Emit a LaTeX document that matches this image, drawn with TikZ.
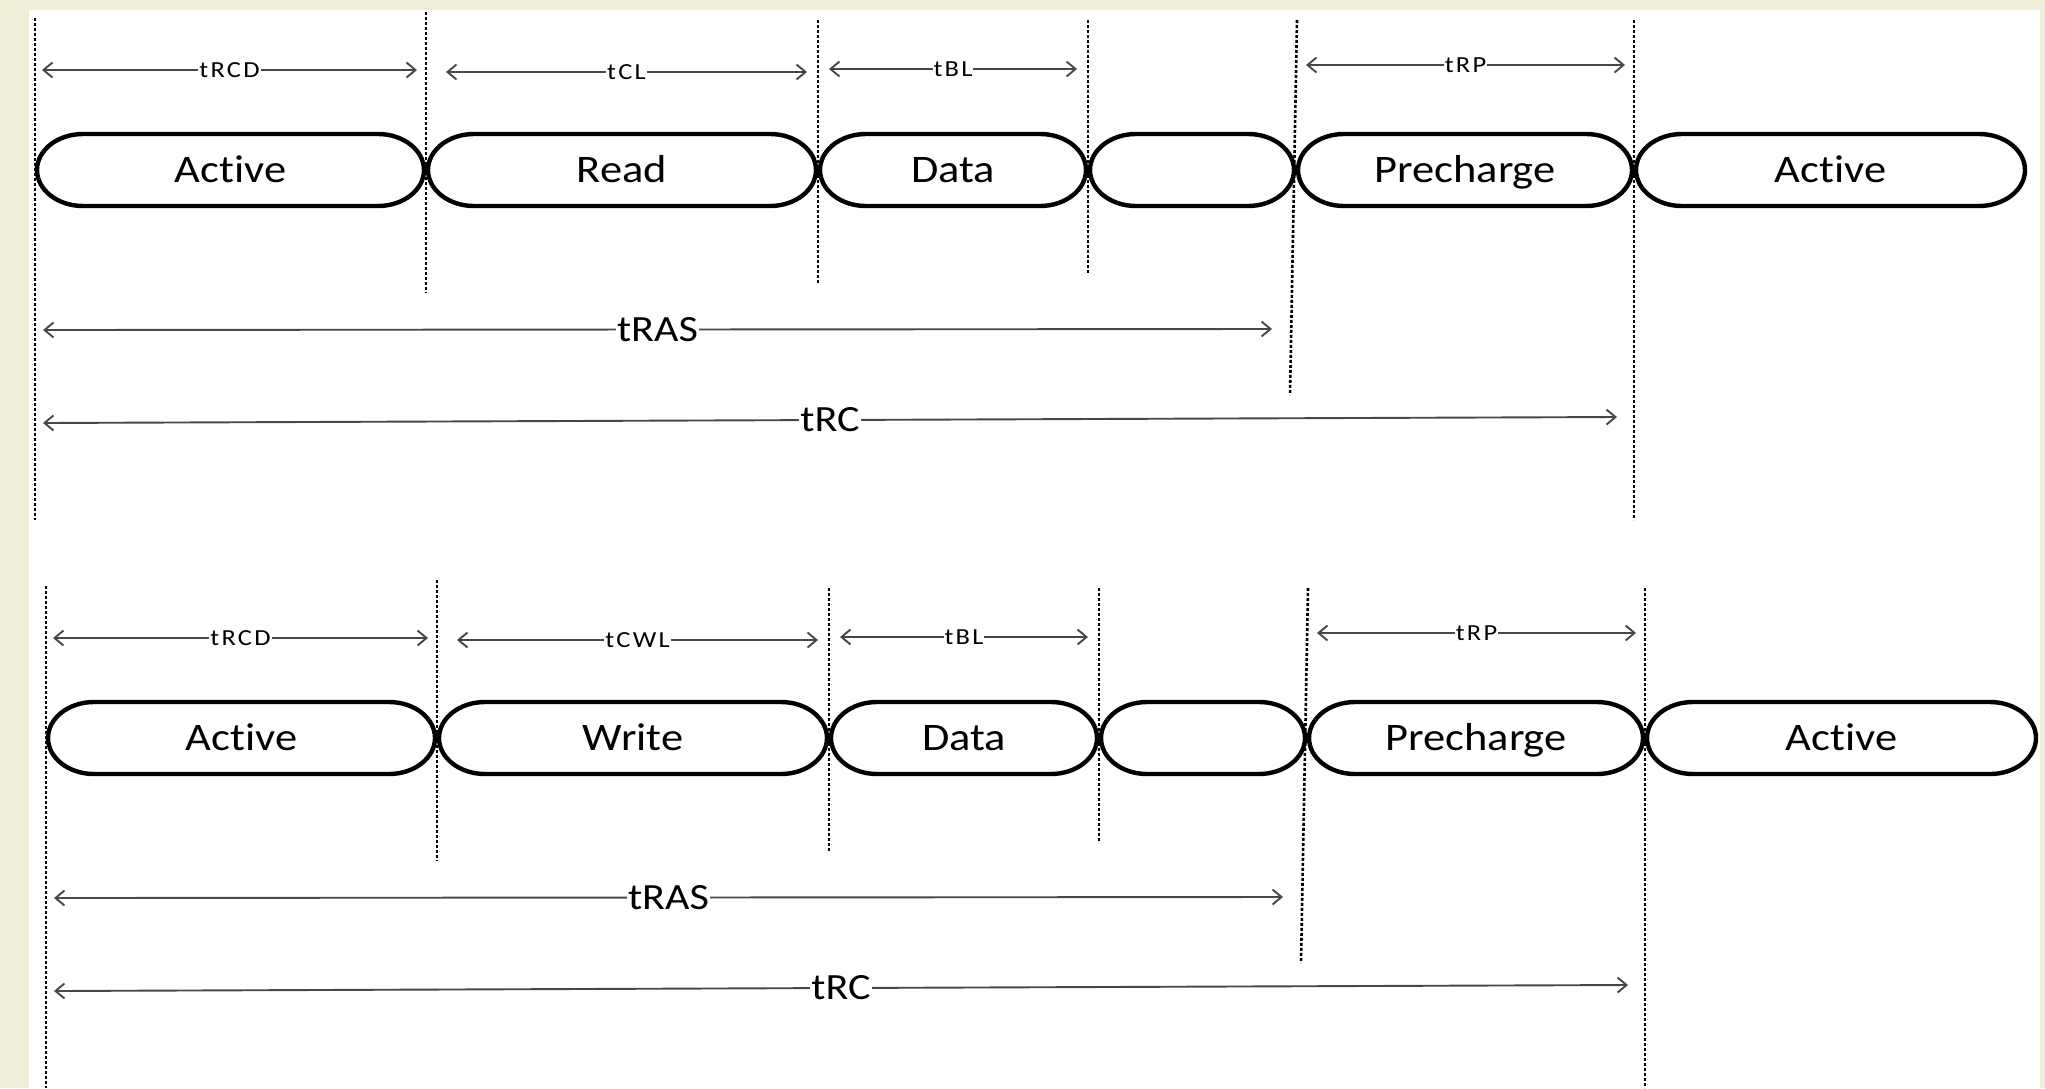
\documentclass[tikz,border=0pt]{standalone}
\usepackage{fontspec}
\usetikzlibrary{arrows.meta}

\newfontfamily\pillfont[FakeStretch=1.14,Ligatures=NoCommon]{Carlito}
\newfontfamily\labfont[FakeStretch=1.15,LetterSpace=10,Ligatures=NoCommon]{Carlito}
\definecolor{pagebg}{RGB}{239,239,216}

% half width / half height of the rounded ends of a command slot
\def\prx{46}
\def\pry{36}

\tikzset{
  guide/.style={line width=2.6pt, dash pattern=on 3pt off 2pt, black},
  pillline/.style={line width=4.4pt, black},
  pilltext/.style={font=\pillfont\fontsize{39}{39}\selectfont, inner sep=0pt,
                   text height=25pt, text depth=0pt},
  span/.style={line width=1.9pt, black!72,
               {Straight Barb[length=9pt,width=15pt]}-{Straight Barb[length=9pt,width=15pt]}},
  smalllab/.style={font=\labfont\fontsize{23}{23}\selectfont, fill=white, text=black,
                   inner xsep=1pt, inner ysep=1pt, text height=15pt, text depth=0pt},
  biglab/.style={font=\pillfont\fontsize{37}{37}\selectfont, fill=white, text=black,
                 inner xsep=1.5pt, inner ysep=1pt, text height=23pt, text depth=0pt},
}

% command slot: name, left x, right x, centre y, text
\newcommand{\slotpill}[5]{%
  \draw[pillline] ({#2+2+\prx},{#4+\pry}) -- ({#3-2-\prx},{#4+\pry})
     arc[start angle=90,end angle=-90,x radius=\prx,y radius=\pry]
     -- ({#2+2+\prx},{#4-\pry})
     arc[start angle=270,end angle=90,x radius=\prx,y radius=\pry] -- cycle;
  \node[pilltext] (#1) at ({(#2+#3)/2},#4) {#5};%
}

% one access sequence: name prefix, latency label, second command
\newcommand{\timingrow}[3]{%
  % boundary guides
  \coordinate (#1g1t) at (35,-18);    \coordinate (#1g1b) at (35,-520);
  \coordinate (#1g2t) at (426,-12);   \coordinate (#1g2b) at (426,-293);
  \coordinate (#1g3t) at (818,-20);   \coordinate (#1g3b) at (818,-283);
  \coordinate (#1g4t) at (1088,-20);  \coordinate (#1g4b) at (1088,-275);
  \coordinate (#1g5t) at (1297,-20);  \coordinate (#1g5b) at (1290,-395);
  \coordinate (#1g6t) at (1634,-20);  \coordinate (#1g6b) at (1634,-520);
  \foreach \g in {1,...,6} {\draw[guide] (#1g\g t) -- (#1g\g b);}
  % command slots
  \slotpill{#1act}{35}{426}{-170}{Active}
  \slotpill{#1cmd}{426}{818}{-170}{#3}
  \slotpill{#1dat}{818}{1088}{-170}{Data}
  \slotpill{#1idl}{1088}{1296}{-170}{}
  \slotpill{#1pre}{1296}{1634}{-170}{Precharge}
  \slotpill{#1nxt}{1634}{2027}{-170}{Active}
  % timing spans
  \coordinate (#1rcdL) at (42,-70);   \coordinate (#1rcdR) at (417,-70);
  \coordinate (#1clL)  at (446,-72);  \coordinate (#1clR)  at (807,-72);
  \coordinate (#1blL)  at (829,-69);  \coordinate (#1blR)  at (1077,-69);
  \coordinate (#1rpL)  at (1306,-65); \coordinate (#1rpR)  at (1625,-65);
  \coordinate (#1rasL) at (43,-330);  \coordinate (#1rasR) at (1272,-329);
  \coordinate (#1rcL)  at (43,-423);  \coordinate (#1rcR)  at (1617,-417);
  \draw[span] (#1rcdL) -- node[smalllab] {tRCD} (#1rcdR);
  \draw[span] (#1clL)  -- node[smalllab] {#2}   (#1clR);
  \draw[span] (#1blL)  -- node[smalllab] {tBL}  (#1blR);
  \draw[span] (#1rpL)  -- node[smalllab] {tRP}  (#1rpR);
  \draw[span] (#1rasL) -- node[biglab] {tRAS}   (#1rasR);
  \draw[span] (#1rcL)  -- node[biglab] {tRC}    (#1rcR);
}

\begin{document}
\begin{tikzpicture}[x=1pt,y=1pt]
  \useasboundingbox (0,0) rectangle (2045,-1088);
  \fill[pagebg] (0,0) rectangle (2045,-1088);
  \fill[white] (29,-10) rectangle (2040,-1088);
  \begin{scope}
    \clip (0,0) rectangle (2045,-1088);
    % read access
    \timingrow{rd}{tCL}{Read}
    % write access
    \begin{scope}[shift={(11,-568)}]
      \timingrow{wr}{tCWL}{Write}
    \end{scope}
  \end{scope}
\end{tikzpicture}
\end{document}
